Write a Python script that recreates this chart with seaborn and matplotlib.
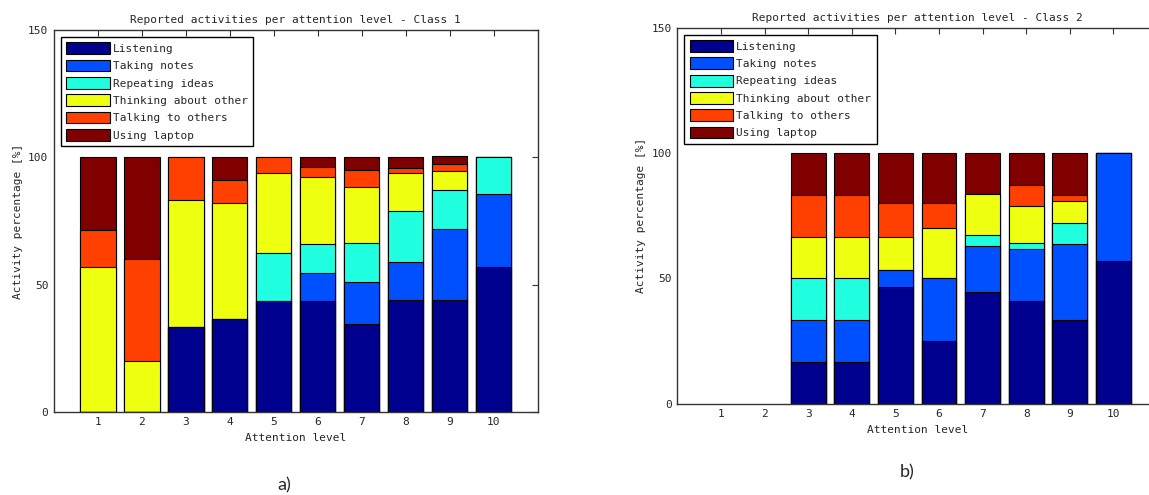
import numpy as np
import pandas as pd
import seaborn as sns
import matplotlib
matplotlib.use('Agg')
import matplotlib.pyplot as plt
from matplotlib.patches import Patch

# Dati (percentuali per livello di attenzione)
levels = [1, 2, 3, 4, 5, 6, 7, 8, 9, 10]
activities = ['Listening', 'Taking notes', 'Repeating ideas',
              'Thinking about other', 'Talking to others', 'Using laptop']
colors = ['#00008F', '#0050FF', '#20FFDF', '#EFFF10', '#FF4000', '#800000']

# Classe 1
c1_listening = [0, 0, 33.3, 36.4, 43.75, 43.4, 34.6, 43.8, 43.8, 57.1]
c1_notes     = [0, 0, 0, 0, 0, 11.3, 16.6, 14.9, 28.1, 28.6]
c1_repeating = [0, 0, 0, 0, 18.75, 11.3, 15.3, 20.2, 15.3, 14.3]
c1_thinking  = [57.1, 20, 50, 45.5, 31.25, 26.2, 21.9, 15.1, 7.6, 0]
c1_talking   = [14.3, 40, 16.7, 9.1, 6.25, 3.9, 6.6, 2.0, 2.7, 0]
c1_laptop    = [28.6, 40, 0, 9.0, 0, 3.9, 5.0, 4.0, 2.9, 0]

# Classe 2
c2_listening = [0, 0, 16.7, 16.7, 46.7, 25, 44.4, 40.8, 33.3, 57.1]
c2_notes     = [0, 0, 16.7, 16.7, 6.7, 25, 18.7, 20.9, 30.6, 42.9]
c2_repeating = [0, 0, 16.6, 16.6, 0, 0, 4.3, 2.4, 8.2, 0]
c2_thinking  = [0, 0, 16.7, 16.7, 13.3, 20, 16.4, 14.7, 8.7, 0]
c2_talking   = [0, 0, 16.6, 16.6, 13.3, 10, 0, 8.4, 2.4, 0]
c2_laptop    = [0, 0, 16.7, 16.7, 20, 20, 16.2, 12.8, 16.8, 0]

classes = [
    ('Reported activities per attention level - Class 1',
     [c1_listening, c1_notes, c1_repeating, c1_thinking, c1_talking, c1_laptop]),
    ('Reported activities per attention level - Class 2',
     [c2_listening, c2_notes, c2_repeating, c2_thinking, c2_talking, c2_laptop]),
]

sns.set_style('white')
plt.rcParams['font.family'] = ['DejaVu Sans Mono']
plt.rcParams['font.size'] = 8

fig = plt.figure(figsize=(11.49, 4.95), dpi=100)
ax1 = fig.add_axes([0.047, 0.168, 0.421, 0.771])
ax2 = fig.add_axes([0.5895, 0.1845, 0.4175, 0.759])

for ax, (title, series) in zip([ax1, ax2], classes):
    df = pd.DataFrame(dict(zip(activities, series)))
    df['level'] = levels
    df = df[df[activities].sum(axis=1) > 0]
    cum = df[activities].cumsum(axis=1)

    # barre impilate: si disegna dall'alto verso il basso
    for act, col in reversed(list(zip(activities, colors))):
        sns.barplot(x=df['level'], y=cum[act], color=col, native_scale=True,
                    width=0.8, edgecolor='black', linewidth=0.8,
                    saturation=1, ax=ax)

    ax.set_xlim(0, 11)
    ax.set_ylim(0, 150)
    ax.set_xticks(levels)
    ax.set_yticks([0, 50, 100, 150])
    ax.set_title(title, fontsize=8, pad=5)
    ax.set_xlabel('Attention level', fontsize=8, labelpad=4)
    ax.set_ylabel('Activity percentage [%]', fontsize=8, labelpad=4)
    ax.tick_params(direction='in', length=4, width=0.8, top=True, right=True,
                   labelsize=8, color='#333333', pad=4)
    for s in ax.spines.values():
        s.set_visible(True)
        s.set_color('#333333')
        s.set_linewidth(1)

    handles = [Patch(facecolor=c, edgecolor='black', linewidth=0.8, label=a)
               for a, c in zip(activities, colors)]
    leg = ax.legend(handles=handles, loc='upper left', fontsize=8,
                    handlelength=3.9, handleheight=1.25, handletextpad=0.3,
                    labelspacing=0.5, borderpad=0.5, borderaxespad=0.6,
                    fancybox=False, framealpha=1)
    leg.get_frame().set_edgecolor('black')
    leg.get_frame().set_linewidth(1)

fig.text(284 / 1149, 1 - 485 / 495, 'a)', fontsize=13, family=['Lato', 'DejaVu Sans'],
         ha='center', va='center')
fig.text(907 / 1149, 1 - 472 / 495, 'b)', fontsize=13, family=['Lato', 'DejaVu Sans'],
         ha='center', va='center')

plt.savefig('out.png', dpi=100)
